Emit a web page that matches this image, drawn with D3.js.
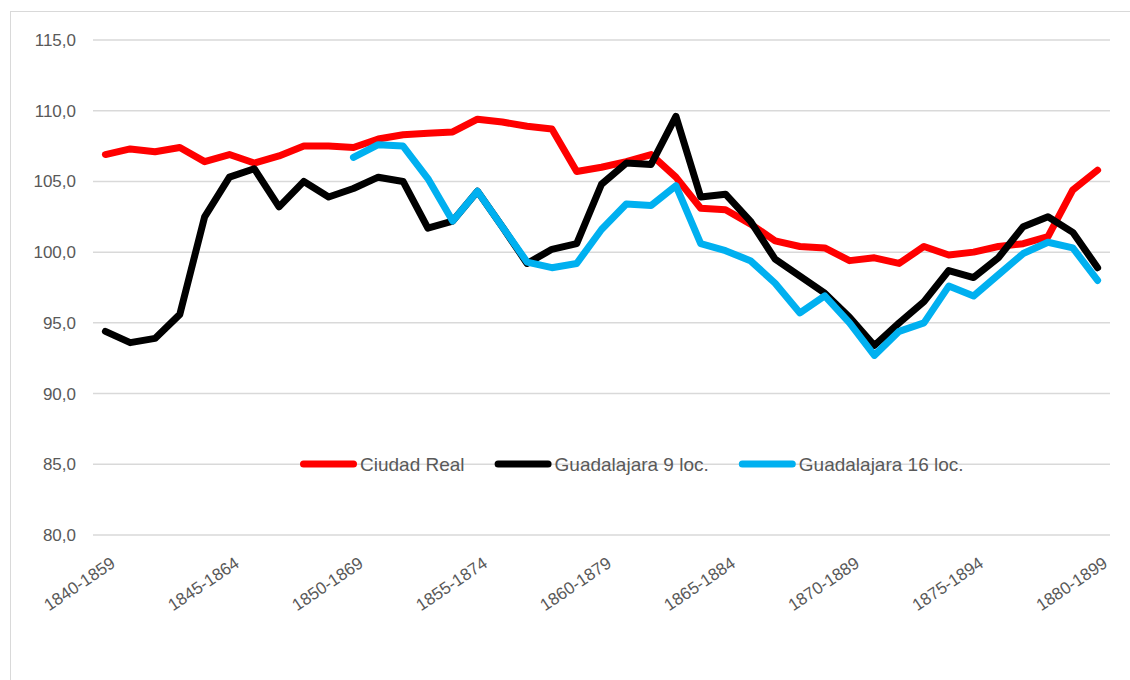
<!DOCTYPE html>
<html>
<head>
<meta charset="utf-8">
<script src="https://cdn.jsdelivr.net/npm/d3@7"></script>
<style>
  body { margin: 0; background: #fff; }
  text { font-family: "Liberation Sans", Arial, sans-serif; fill: #595959; }
</style>
</head>
<body>
<svg id="chart"></svg>
<script>
const categories = ["1840-1859","1841-1860","1842-1861","1843-1862","1844-1863","1845-1864","1846-1865","1847-1866","1848-1867","1849-1868",
  "1850-1869","1851-1870","1852-1871","1853-1872","1854-1873","1855-1874","1856-1875","1857-1876","1858-1877","1859-1878",
  "1860-1879","1861-1880","1862-1881","1863-1882","1864-1883","1865-1884","1866-1885","1867-1886","1868-1887","1869-1888",
  "1870-1889","1871-1890","1872-1891","1873-1892","1874-1893","1875-1894","1876-1895","1877-1896","1878-1897","1879-1898",
  "1880-1899"];

const ciudadReal = [106.9,107.3,107.1,107.4,106.4,106.9,106.3,106.8,107.5,107.5,107.4,
  108.0,108.3,108.4,108.5,109.4,109.2,108.9,108.7,105.7,106.0,106.4,106.9,105.3,
  103.1,103.0,102.0,100.8,100.4,100.3,99.4,99.6,99.2,100.4,99.8,100.0,100.4,100.6,101.1,104.4,105.8];

const guada9 = [94.4,93.6,93.9,95.6,102.5,105.3,105.9,103.2,105.0,103.9,104.5,105.3,105.0,
  101.7,102.2,104.3,101.8,99.2,100.2,100.6,104.8,106.3,106.2,109.6,103.9,104.1,
  102.2,99.5,98.3,97.1,95.4,93.4,95.0,96.5,98.7,98.2,99.6,101.8,102.5,101.4,98.9];

const guada16 = [null,null,null,null,null,null,null,null,null,null,
  106.7,107.6,107.5,105.2,102.2,104.3,101.8,99.3,98.9,99.2,101.6,103.4,103.3,104.7,100.6,100.1,
  99.4,97.8,95.7,96.9,95.0,92.7,94.4,95.0,97.6,96.9,98.4,99.9,100.7,100.3,98.0];

const yTicks = [80,85,90,95,100,105,110,115];
const seriesNames = ["Ciudad Real", "Guadalajara 9 loc.", "Guadalajara 16 loc."];
const seriesColors = ["#ff0000", "#000000", "#00b0f0"];

const svgWidth = 1130, svgHeight = 680;
const plot = {left: 93, right: 1110, top: 40, bottom: 535};

const chart = d3.select("#chart")
    .attr("width", svgWidth)
    .attr("height", svgHeight);

// outer frame
chart.append("rect")
    .attr("x", 10.5).attr("y", 11.5)
    .attr("width", svgWidth).attr("height", svgHeight)
    .attr("fill", "none")
    .attr("stroke", "#d9d9d9");

var xScale = d3.scaleBand().domain(categories).range([plot.left, plot.right]).padding(0);
var yScale = d3.scaleLinear().domain([80, 115]).range([plot.bottom, plot.top]);
var xPos = function(c){ return xScale(c) + xScale.bandwidth() / 2; };

// gridlines
chart.append("g")
    .selectAll("line")
    .data(yTicks)
    .enter().append("line")
    .attr("x1", plot.left).attr("x2", plot.right)
    .attr("y1", d => yScale(d)).attr("y2", d => yScale(d))
    .attr("stroke", "#d9d9d9")
    .attr("stroke-width", 1.5);

// y axis labels
var yAxis = d3.axisLeft(yScale)
    .tickValues(yTicks)
    .tickSize(0)
    .tickPadding(0)
    .tickFormat(d => d3.format(".1f")(d).replace(".", ","));

var yG = chart.append("g")
    .attr("transform", "translate(76,0)")
    .call(yAxis);
yG.select(".domain").remove();
yG.selectAll("text")
    .attr("font-size", 17)
    .attr("font-family", null)
    .attr("fill", "#595959");

// x axis labels (every 5th category, rotated)
var xLabels = categories.filter((c, i) => i % 5 === 0);
chart.append("g")
    .selectAll("text")
    .data(xLabels)
    .enter().append("text")
    .attr("transform", d => "translate(" + (xPos(d) + 11) + ",566) rotate(-34)")
    .attr("text-anchor", "end")
    .attr("font-size", 17)
    .text(d => d);

// lines
var valueline = d3.line()
    .defined(d => d.value != null)
    .x(d => xPos(d.cat))
    .y(d => yScale(d.value));

var allSeries = [ciudadReal, guada9, guada16];
allSeries.forEach(function(values, k){
    var pts = categories.map((c, i) => ({cat: c, value: values[i]}));
    chart.append("path")
        .datum(pts)
        .attr("d", valueline)
        .attr("fill", "none")
        .attr("stroke", seriesColors[k])
        .attr("stroke-width", 7)
        .attr("stroke-linejoin", "round")
        .attr("stroke-linecap", "round");
});

// legend
var legend = chart.append("g");
var lx = 300, ly = 464;
seriesNames.forEach(function(name, k){
    legend.append("line")
        .attr("x1", lx + 3.5).attr("x2", lx + 53.5)
        .attr("y1", ly).attr("y2", ly)
        .attr("stroke", seriesColors[k])
        .attr("stroke-width", 7)
        .attr("stroke-linecap", "round");
    var t = legend.append("text")
        .attr("x", lx + 60)
        .attr("y", ly + 7)
        .attr("font-size", 19)
        .text(name);
    lx = lx + 60 + t.node().getComputedTextLength() + 30;
});
</script>
</body>
</html>
